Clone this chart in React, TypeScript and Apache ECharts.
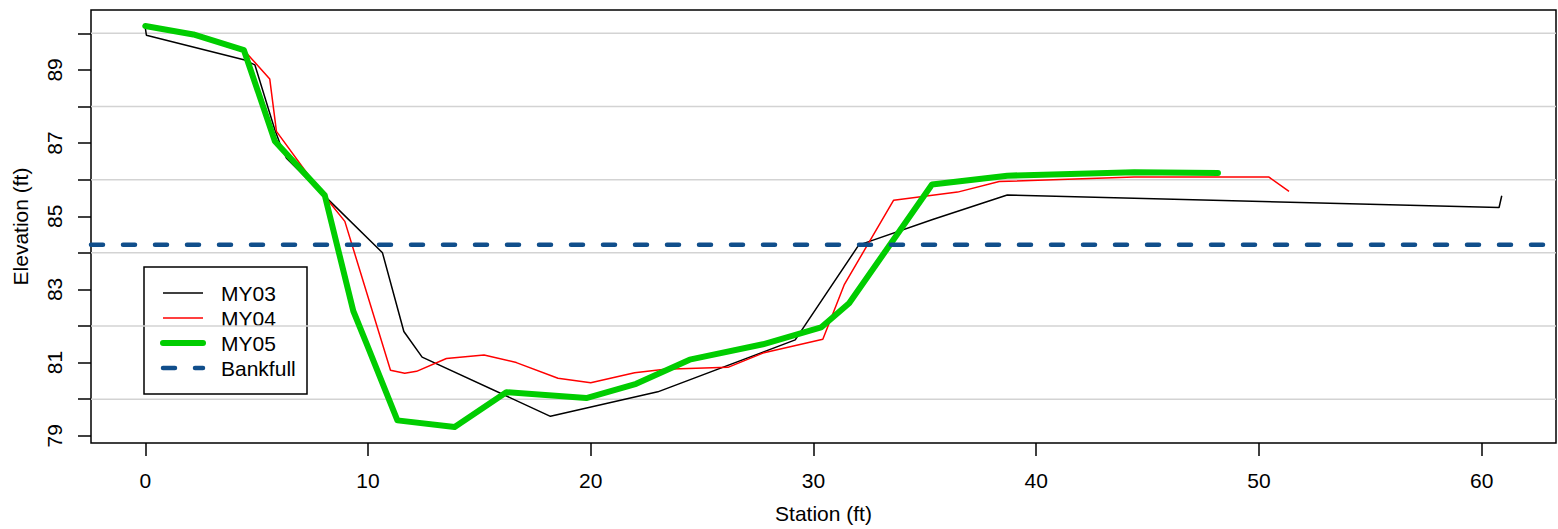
import React, { useEffect, useRef } from "react";
import * as echarts from "echarts";

// ---- data ----
const my03X = [0, 0.05, 4.47, 4.92, 5.82, 6.04, 6.34, 8.06, 10.65, 11.61, 12.43, 18.19, 23.01, 29.18, 32.03, 35.35, 38.7, 60.78, 60.9];
const my03Y = [90.16, 89.95, 89.27, 89.14, 87.36, 87.0, 86.59, 85.55, 84.0, 81.85, 81.15, 79.53, 80.2, 81.62, 84.21, 84.91, 85.58, 85.24, 85.56];

const my04X = [0, 2.16, 4.43, 5.59, 5.89, 7.69, 8.29, 8.96, 11.01, 11.65, 12.18, 13.52, 15.21, 16.66, 18.53, 20.0, 21.97, 23.32, 26.16, 27.73, 30.42, 31.39, 33.6, 36.47, 38.34, 44.4, 50.45, 51.35];
const my04Y = [90.2, 89.97, 89.54, 88.75, 87.32, 85.82, 85.37, 84.86, 80.79, 80.71, 80.76, 81.11, 81.21, 81.0, 80.57, 80.45, 80.72, 80.82, 80.87, 81.26, 81.64, 83.14, 85.44, 85.66, 85.95, 86.07, 86.07, 85.68];

const my05X = [0, 2.16, 4.43, 5.82, 8.06, 9.34, 9.94, 11.32, 13.89, 16.21, 19.8, 22.04, 24.44, 27.73, 30.34, 31.6, 35.32, 38.7, 44.4, 48.16];
const my05Y = [90.2, 89.97, 89.54, 87.05, 85.57, 82.41, 81.51, 79.42, 79.24, 80.19, 80.03, 80.42, 81.08, 81.5, 81.96, 82.62, 85.87, 86.11, 86.2, 86.18];

const bankfullElevation = 84.22;

const xTickValues = [0, 10, 20, 30, 40, 50, 60];
const yTickValues = [79, 80, 81, 82, 83, 84, 85, 86, 87, 88, 89, 90];
const yLabelValues = [79, 81, 83, 85, 87, 89];
const gridValues = [80, 82, 84, 86, 88, 90];

const legendNames = ["MY03", "MY04", "MY05", "Bankfull"];

// R-style 4% axis extension
const allX = [...my03X, ...my04X, ...my05X];
const allY = [...my03Y, ...my04Y, ...my05Y];
const dxMin = Math.min(...allX), dxMax = Math.max(...allX);
const dyMin = Math.min(...allY), dyMax = Math.max(...allY);
const X_MIN = dxMin - 0.04 * (dxMax - dxMin);
const X_MAX = dxMax + 0.04 * (dxMax - dxMin);
const Y_MIN = dyMin - 0.04 * (dyMax - dyMin);
const Y_MAX = dyMax + 0.04 * (dyMax - dyMin);

const zip = (xs: number[], ys: number[]) => xs.map((x, i) => [x, ys[i]]);

const FONT = "'Liberation Sans', Arial, Helvetica, sans-serif";
const FS = 21;

const COLORS = {
  my03: "#000000",
  my04: "#FF0000",
  my05: "#00CD00",
  bank: "#104E8B",
  grid: "#D3D3D3",
};

export default function App() {
  const ref = useRef<HTMLDivElement>(null);

  useEffect(() => {
    if (!ref.current) return;
    const chart = echarts.init(ref.current, undefined, { renderer: "svg" });

    const legendX = 144, legendY = 267, legendW = 163, legendH = 127;
    const rowY = [293, 318, 343, 368];
    const lx1 = 163, lx2 = 203, tx = 221;
    const legendLineStyles = [
      { stroke: COLORS.my03, lineWidth: 1.5 },
      { stroke: COLORS.my04, lineWidth: 1.5 },
      { stroke: COLORS.my05, lineWidth: 6, lineCap: "round" },
      { stroke: COLORS.bank, lineWidth: 4.5, lineDash: [12, 20], lineCap: "round" },
    ];

    const legendChildren: any[] = [
      {
        type: "rect",
        shape: { x: legendX, y: legendY, width: legendW, height: legendH },
        style: { fill: "#fff", stroke: "#000", lineWidth: 1.5 },
      },
    ];
    legendNames.forEach((name, i) => {
      legendChildren.push({
        type: "line",
        shape: { x1: lx1, y1: rowY[i], x2: lx2, y2: rowY[i] },
        style: legendLineStyles[i],
      });
      legendChildren.push({
        type: "text",
        x: tx,
        y: rowY[i],
        style: {
          text: name,
          fontSize: FS,
          fontFamily: FONT,
          fill: "#000",
          verticalAlign: "middle",
          align: "left",
        },
      });
    });

    const option: any = {
      animation: false,
      backgroundColor: "#fff",
      grid: {
        left: 91,
        right: 2,
        top: 10,
        bottom: 84,
        show: true,
        borderColor: "#000",
        borderWidth: 1.5,
        backgroundColor: "transparent",
      },
      xAxis: {
        type: "value",
        min: X_MIN,
        max: X_MAX,
        name: "Station (ft)",
        nameLocation: "middle",
        nameGap: 60,
        nameTextStyle: { fontSize: FS, fontFamily: FONT, color: "#000" },
        axisLine: { show: false, onZero: false },
        axisTick: {
          show: true,
          length: 13,
          inside: false,
          customValues: xTickValues,
          lineStyle: { color: "#000", width: 1.5 },
        },
        axisLabel: {
          customValues: xTickValues,
          fontSize: FS,
          fontFamily: FONT,
          color: "#000",
          margin: 27,
        },
        splitLine: { show: false },
      },
      yAxis: {
        type: "value",
        min: Y_MIN,
        max: Y_MAX,
        name: "Elevation (ft)",
        nameLocation: "middle",
        nameGap: 60,
        nameTextStyle: { fontSize: FS, fontFamily: FONT, color: "#000" },
        axisLine: { show: false, onZero: false },
        axisTick: {
          show: true,
          length: 13,
          inside: false,
          customValues: yTickValues,
          lineStyle: { color: "#000", width: 1.5 },
        },
        axisLabel: {
          customValues: yLabelValues,
          rotate: 90,
          fontSize: FS,
          fontFamily: FONT,
          color: "#000",
          margin: 26,
        },
        splitLine: { show: false },
      },
      series: [
        {
          type: "custom",
          name: "grid",
          silent: true,
          z: 1,
          data: gridValues.map((v) => [X_MIN, v]),
          renderItem: (params: any, api: any) => {
            const v = api.value(1);
            const p1 = api.coord([X_MIN, v]);
            const p2 = api.coord([X_MAX, v]);
            return {
              type: "line",
              shape: { x1: p1[0], y1: p1[1], x2: p2[0], y2: p2[1] },
              style: { stroke: COLORS.grid, lineWidth: 1.5 },
            };
          },
        },
        {
          type: "line",
          name: "MY03",
          data: zip(my03X, my03Y),
          showSymbol: false,
          symbol: "none",
          z: 3,
          lineStyle: { color: COLORS.my03, width: 1.5 },
        },
        {
          type: "line",
          name: "MY04",
          data: zip(my04X, my04Y),
          showSymbol: false,
          symbol: "none",
          z: 4,
          lineStyle: { color: COLORS.my04, width: 1.5 },
        },
        {
          type: "line",
          name: "MY05",
          data: zip(my05X, my05Y),
          showSymbol: false,
          symbol: "none",
          z: 5,
          lineStyle: { color: COLORS.my05, width: 6, cap: "round", join: "round" },
        },
        {
          type: "line",
          name: "Bankfull",
          data: [
            [X_MIN, bankfullElevation],
            [X_MAX, bankfullElevation],
          ],
          showSymbol: false,
          symbol: "none",
          z: 6,
          lineStyle: { color: COLORS.bank, width: 4.5, type: [12, 20], cap: "round" },
        },
      ],
      graphic: [{ type: "group", z: 100, children: legendChildren }],
    };

    chart.setOption(option);
    return () => chart.dispose();
  }, []);

  return (
    <div
      ref={ref}
      style={{ position: "absolute", left: 0, top: 0, width: 1558, height: 529 }}
    />
  );
}
